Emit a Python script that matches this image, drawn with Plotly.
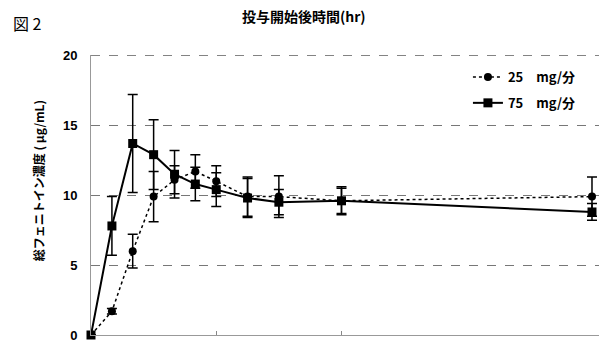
import plotly.graph_objects as go

# Sampling times after start of infusion (hr)
time_hr = [0, 0.167, 0.333, 0.5, 0.667, 0.833, 1.0, 1.25, 1.5, 2.0, 4.0]

# Total phenytoin concentration (μg/mL), mean and SD
conc_25 = [0, 1.7, 6.0, 9.9, 11.1, 11.7, 11.0, 9.9, 9.9, 9.6, 9.9]
sd_25 = [0, 0.2, 1.2, 1.8, 1.0, 1.2, 1.1, 1.4, 1.5, 1.0, 1.4]
conc_75 = [0, 7.8, 13.7, 12.9, 11.5, 10.8, 10.4, 9.8, 9.5, 9.6, 8.8]
sd_75 = [0, 2.1, 3.5, 2.5, 1.7, 1.2, 1.2, 1.4, 0.9, 0.9, 0.6]

series_names = ["25\u2003mg/分", "75\u2003mg/分"]
y_ticks = [0, 5, 10, 15, 20]

JP = "Noto Sans CJK JP"
fig = go.Figure()

fig.add_trace(go.Scatter(
    x=time_hr, y=conc_25, name=series_names[0], mode="lines+markers",
    legendgroup="a",
    line=dict(color="black", width=1.5, dash="dot"),
    marker=dict(symbol="circle", size=8, color="black"),
    error_y=dict(type="data", array=sd_25, color="black", thickness=1.5, width=5),
    cliponaxis=False,
))
fig.add_trace(go.Scatter(
    x=time_hr, y=conc_75, name=series_names[1], mode="lines+markers",
    legendgroup="b",
    line=dict(color="black", width=2),
    marker=dict(symbol="square", size=9, color="black"),
    error_y=dict(type="data", array=sd_75, color="black", thickness=1.5, width=5),
    cliponaxis=False,
))

fig.update_layout(
    width=606, height=350,
    margin=dict(l=91, r=7, t=55, b=9),
    paper_bgcolor="white", plot_bgcolor="white",
    font=dict(family=JP, color="black", size=12),
    showlegend=True,
    legend=dict(
        x=0.742, y=0.975, xanchor="left", yanchor="top",
        bgcolor="rgba(0,0,0,0)", tracegroupgap=6,
        font=dict(family=JP, size=13, weight="bold"),
        itemwidth=30,
    ),
    xaxis=dict(
        range=[0, 4.056], showgrid=False, zeroline=False,
        showline=True, linecolor="#999", linewidth=1,
        tickvals=[1, 2], ticks="inside", ticklen=4, tickcolor="#888",
        showticklabels=False,
    ),
    yaxis=dict(
        range=[0, 20.03], tickvals=y_ticks, zeroline=False,
        showline=True, linecolor="#999", linewidth=1,
        showgrid=True, gridcolor="#777", griddash="dash", gridwidth=1,
        ticks="", ticklabelstandoff=10,
        tickfont=dict(family="Liberation Sans", size=13, weight="bold"),
    ),
)

# dashed line along the top tick (plotly drops the gridline at the range edge)
fig.add_shape(
    type="line", xref="paper", yref="y", x0=0, x1=1,
    y0=y_ticks[-1], y1=y_ticks[-1],
    line=dict(color="#777", width=1, dash="dash"), layer="below",
)

fig.add_annotation(
    text="図 2", xref="paper", yref="paper", x=-0.157, y=1.115,
    xanchor="left", yanchor="middle", showarrow=False,
    font=dict(family=JP, size=16),
)
fig.add_annotation(
    text="投与開始後時間(hr)", xref="paper", yref="paper", x=0.42, y=1.14,
    xanchor="center", yanchor="middle", showarrow=False,
    font=dict(family=JP, size=14, weight="bold"),
)
fig.add_annotation(
    text="総フェニトイン濃度 ( μg/mL)", xref="paper", yref="paper",
    x=-0.104, y=0.55, xanchor="center", yanchor="middle", textangle=-90,
    showarrow=False, font=dict(family=JP, size=12, weight="bold"),
)

fig.write_html("out.html")
